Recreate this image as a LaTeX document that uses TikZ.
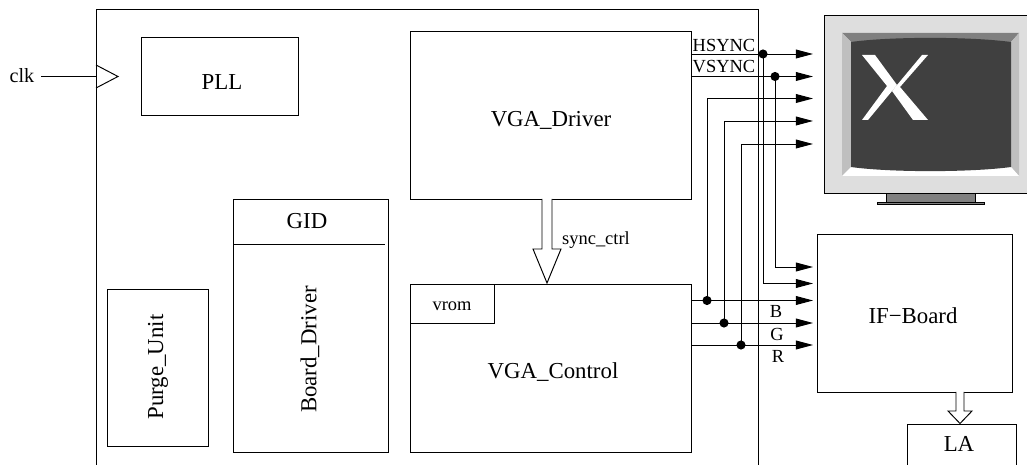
\documentclass[tikz,border=0pt]{standalone}
\usepackage{fontspec}
\setmainfont{Liberation Serif}
\usetikzlibrary{calc, positioning, arrows.meta}
\definecolor{bezel}{gray}{0.87}
\definecolor{bevelA}{gray}{0.5}
\definecolor{bevelB}{gray}{0.75}
\definecolor{screen}{gray}{0.25}
\tikzset{
  line/.style={line width=0.55pt},
  block/.style={draw, line, anchor=north west, inner sep=0pt},
  lbl/.style={font=\fontsize{10.5}{12}\selectfont, inner sep=0pt},
  biglbl/.style={font=\fontsize{13}{15}\selectfont, inner sep=0pt},
  sig/.style={-{Triangle[length=9.7pt, width=5pt]}, line},
  dot/.style={circle, fill=black, inner sep=0pt, minimum size=5.2pt},
  bus/.style={draw, line, fill=white}
}
\begin{document}
\begin{tikzpicture}[x=0.02cm, y=-0.02cm]
  \useasboundingbox (0,0) rectangle (1027,465);

  % top level frame, open at the bottom
  \draw[line] (96,465) -- (96,9) -- (758,9) -- (758,465);

  % blocks
  \node[block, minimum width=3.14cm, minimum height=1.56cm] (pll) at (141,37) {};
  \node[biglbl] at (222,82) {PLL};
  \node[block, minimum width=5.62cm, minimum height=3.36cm] (driver) at (410,31) {};
  \node[biglbl] at (551,120) {VGA\_Driver};
  \node[block, minimum width=5.62cm, minimum height=3.36cm] (control) at (410,284) {};
  \node[biglbl] at (553,372) {VGA\_Control};
  \node[block, minimum width=1.68cm, minimum height=0.78cm] (vrom) at (410,284) {};
  \node[lbl] at (452,306) {vrom};
  \node[block, minimum width=3.1cm, minimum height=5.06cm] (board) at (233,199) {};
  \node[biglbl] (gid) at (307,221) {GID};
  \draw[line] (233,244) -- (385,244);
  \node[biglbl, rotate=90] at (310,349.5) {Board\_Driver};
  \node[block, minimum width=2.02cm, minimum height=3.14cm] (purge) at (107,289) {};
  \node[biglbl, rotate=90] at (158,367) {Purge\_Unit};
  \node[block, minimum width=3.9cm, minimum height=3.16cm] (ifboard) at (817,234) {};
  \node[biglbl] at (913,316) {IF−Board};
  \draw[line] (907,465) -- (907,424) -- (1016,424) -- (1016,465);
  \node[biglbl] (la) at (959,444) {LA};

  % clock input
  \node[lbl, font=\fontsize{11.5}{13}\selectfont] (clk) at (22,76) {clk};
  \coordinate (clkout) at (41,76.5);
  \coordinate (clkin) at (96,76.5);
  \draw[line] (clkout) -- (clkin);
  \draw[line] (96,65) -- (118,76.5) -- (96,88);

  % bus arrows
  \draw[bus] (542,199) -- (542,249) -- (533,249) -- (547,283) -- (561,249) -- (552,249) -- (552,199);
  \node[lbl] at (596,240) {sync\_ctrl};
  \draw[bus] (956,392) -- (956,411) -- (948,411) -- (960,423.5) -- (972,411) -- (964,411) -- (964,392);

  % monitor
  \fill[bezel] (824,15) rectangle (1027,193);
  \draw[line] (1027,15) -- (824,15) -- (824,193) -- (1027,193);
  \fill[bevelA] (842,33) -- (1019,33) -- (1011,42) -- (851,42) -- cycle;
  \fill[bevelB] (842,33) -- (851,42) -- (851,167) -- (842,176) -- cycle;
  \fill[bevelB] (1019,33) -- (1011,42) -- (1011,167) -- (1019,176) -- cycle;
  \fill[white] (842,176) -- (851,167) -- (1011,167) -- (1019,176) -- cycle;
  \fill[screen] (851,42) .. controls (890,36.5) and (970,36.5) .. (1011,42)
    -- (1011,167) .. controls (970,172.5) and (890,172.5) .. (851,167) -- cycle;
  \fill[white] (862,55) -- (875,55) -- (897,85) -- (868,120) -- (862,120) -- (887,86) -- cycle;
  \fill[white] (928,55) -- (922,55) -- (892,91) -- (913,120) -- (928,120) -- (900,87) -- cycle;
  \draw[line, fill=bevelA] (886,193) rectangle (975,202);
  \draw[line, fill=bevelA] (877,202) rectangle (984,204);

  % signal rows
  \foreach \name/\ypos in {a/54, b/76.5, c/98.5, d/121, e/144, f/267, g/283.5, h/300.5, i/323, j/345}
    \coordinate (tip\name) at (813,\ypos);

  \node[dot] (hdot) at (763,54) {};
  \node[dot] (vdot) at (775,76.5) {};
  \node[dot] (bdot) at (707,300.5) {};
  \node[dot] (gdot) at (724,323) {};
  \node[dot] (rdot) at (741,345) {};

  % to the monitor
  \draw[sig] (driver.north east |- tipa) -- (tipa);
  \draw[sig] (driver.north east |- tipb) -- (tipb);
  \draw[sig] (bdot.center) |- (tipc);
  \draw[sig] (gdot.center) |- (tipd);
  \draw[sig] (rdot.center) |- (tipe);

  % to the IF board
  \draw[sig] (vdot.center) |- (tipf);
  \draw[sig] (hdot.center) |- (tipg);
  \draw[sig] (control.north east |- tiph) -- (tiph);
  \draw[sig] (control.north east |- tipi) -- (tipi);
  \draw[sig] (control.north east |- tipj) -- (tipj);

  % signal names
  \node[lbl] at (724,45) {HSYNC};
  \node[lbl] at (724,67) {VSYNC};
  \node[lbl] at (776,311) {B};
  \node[lbl] at (777,334) {G};
  \node[lbl] at (778,356) {R};
\end{tikzpicture}
\end{document}
